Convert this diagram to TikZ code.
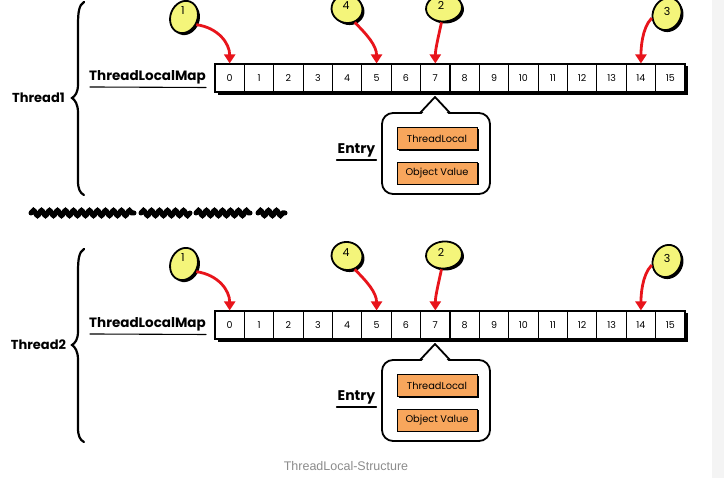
\documentclass[tikz,border=0pt]{standalone}
\usepackage{fontspec}
\setmainfont{Poppins}
\newfontfamily\capfont{Liberation Sans}
\usetikzlibrary{arrows.meta,shapes.geometric,decorations.pathmorphing,shadows}
\definecolor{bubyellow}{HTML}{F4F57A}
\definecolor{entryorange}{HTML}{F8A65C}
\definecolor{arrowred}{HTML}{E8141B}
\definecolor{capgrey}{HTML}{8C8C8C}
\definecolor{stripgrey}{HTML}{F4F4F4}
\begin{document}
\begin{tikzpicture}[x=1pt,y=-1pt,
  cell/.style={draw, line width=1.1pt, fill=white, minimum width=29.375pt, minimum height=28pt, inner sep=0pt, font=\fontsize{9.5}{10}\selectfont},
  bubble/.style={ellipse, draw, line width=1.8pt, fill=bubyellow, inner sep=0pt,
    drop shadow={shadow xshift=2pt, shadow yshift=-2pt, fill=black, opacity=1}},
  num/.style={font=\fontsize{11}{11}\selectfont, inner sep=0pt},
  ptr/.style={draw=arrowred, line width=2.8pt, -{Triangle[length=9pt,width=11pt,fill=arrowred]}},
  field/.style={draw, line width=0.8pt, fill=entryorange, minimum width=80pt, minimum height=22pt, inner sep=0pt,
    font=\fontsize{9.8}{10}\selectfont, drop shadow={shadow xshift=1.5pt, shadow yshift=-1.5pt, fill=black, opacity=1}},
  lbl/.style={font=\bfseries\fontsize{13}{14}\selectfont, inner sep=0pt},
  uline/.style={line width=1.1pt, line cap=round},
  bracestyle/.style={line width=2.2pt, line cap=round},
  calloutline/.style={line width=1.8pt, line join=round}]
\useasboundingbox (0,0) rectangle (724,478);
\fill[white] (0,0) rectangle (724,478);
\fill[stripgrey] (712,0) rectangle (724,478);

\foreach \r/\off/\lab in {1/0/Thread1, 2/247/Thread2}{
\begin{scope}[shift={(0,\off)}]
  % brace
  \draw[bracestyle] (84,2) .. controls (79,5) and (78,12) .. (78,25) -- (78,84)
     .. controls (78,93) and (75,96) .. (72,98) .. controls (75,100) and (78,104) .. (78,113)
     -- (78,181) .. controls (78,189) and (80,193) .. (84,195);
  \node[lbl] (t\r) at (38.5,98) {\lab};
  % map label
  \node[lbl, font=\bfseries\fontsize{13.5}{14}\selectfont] (m\r) at (147.5,77) {ThreadLocalMap};
  \draw[uline] ([xshift=1pt,yshift=-3pt]m\r.south west) -- ([yshift=-3.5pt]m\r.south east);
  % array shadow and cells
  \fill[black] (217.5,66.5) rectangle (688,95.5);
  \foreach \k in {0,...,15}{
    \node[cell] (c\r-\k) at ({229.69+29.375*\k},78) {\k};
  }
  % entry callout
  \draw[calloutline, fill=white, rounded corners=11pt] (382,113) rectangle (490,194);
  \fill[white] (421.5,114.2) -- (435,99.5) -- (448.5,114.2) -- cycle;
  \draw[calloutline] (420,113) -- (435,97) -- (450,113);
  \node[field] (tl\r) at (437,138.5) {ThreadLocal};
  \node[field] (ov\r) at (437,173) {Object Value};
  \node[lbl, font=\bfseries\fontsize{14}{14}\selectfont] (e\r) at (356.5,150) {Entry};
  \draw[uline] ([xshift=-1pt,yshift=-3pt]e\r.south west) -- ([xshift=1pt,yshift=-3pt]e\r.south east);
  % bubbles
  \node[bubble, minimum width=27pt, minimum height=33pt, rotate=-22] (b\r-1) at (184,17) {};
  \node[bubble, minimum width=31pt, minimum height=28pt, rotate=-10] (b\r-4) at (347,9) {};
  \node[bubble, minimum width=36pt, minimum height=27pt, rotate=5] (b\r-2) at (444,8) {};
  \node[bubble, minimum width=28pt, minimum height=33pt, rotate=-25] (b\r-3) at (667,14) {};
  \node[num] (n\r-1) at ([shift={(-1,-6)}]b\r-1.center) {1};
  \node[num] (n\r-4) at ([shift={(-1,-3)}]b\r-4.center) {4};
  \node[num] (n\r-2) at ([shift={(-3,-3)}]b\r-2.center) {2};
  \node[num] (n\r-3) at ([shift={(0,-3)}]b\r-3.center) {3};
  % arrows
  \draw[ptr] (b\r-1.-10) .. controls +(22,3) and +(0,-20) .. (c\r-0.north);
  \draw[ptr] (b\r-4.-50) .. controls +(12,12) and +(0,-18) .. (c\r-5.north);
  \draw[ptr] (b\r-2.-105) .. controls +(-3,14) and +(0,-14) .. (c\r-7.north);
  \draw[ptr] (b\r-3.-140) .. controls +(-10,10) and +(0,-14) .. (c\r-14.north);
\end{scope}
}

% scribble separator
\foreach \a/\b [count=\i] in {31/134, 141/190, 196/250, 258/285}{
  \draw[line width=5pt, line cap=round, decorate, decoration={snake, amplitude=2.6pt, segment length=8pt}]
    (\a,213) coordinate (s\i a) -- (\b,213) coordinate (s\i b);
}
\node[font=\capfont\fontsize{12.5}{13}\selectfont, text=capgrey] (cap) at (346,466) {ThreadLocal-Structure};
\end{tikzpicture}
\end{document}
